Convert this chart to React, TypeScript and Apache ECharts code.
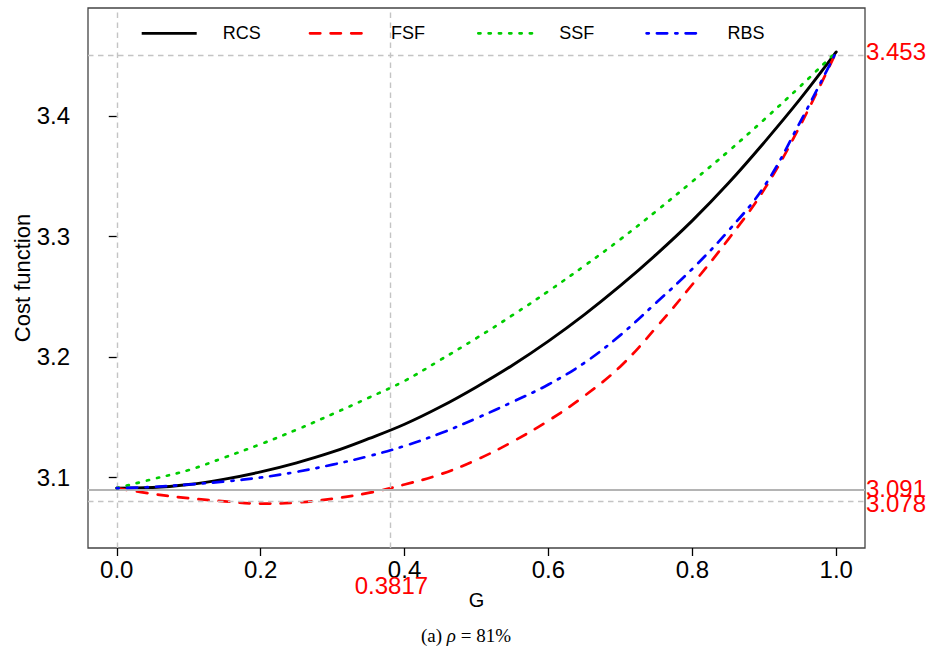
import React, { useEffect, useRef } from "react";
import * as echarts from "echarts";

// ---- data ----
const gValues = [0, 0.05, 0.1, 0.15, 0.2, 0.25, 0.3, 0.35, 0.4, 0.45, 0.5, 0.55, 0.6, 0.65, 0.7, 0.75, 0.8, 0.85, 0.9, 0.95, 1.0];
const rcsValues = [3.091, 3.0915, 3.094, 3.0985, 3.1045, 3.112, 3.121, 3.132, 3.144, 3.1585, 3.175, 3.193, 3.213, 3.235, 3.259, 3.285, 3.313, 3.344, 3.378, 3.414, 3.453];
const fsfValues = [3.091, 3.0862, 3.0826, 3.08, 3.0782, 3.079, 3.0822, 3.087, 3.094, 3.1025, 3.1145, 3.1295, 3.147, 3.1675, 3.192, 3.2245, 3.26, 3.2975, 3.339, 3.392, 3.453];
const ssfValues = [3.091, 3.0985, 3.106, 3.1165, 3.1275, 3.1395, 3.1525, 3.166, 3.18, 3.1975, 3.2155, 3.2345, 3.2545, 3.2755, 3.2975, 3.321, 3.3455, 3.3705, 3.397, 3.4245, 3.453];
const rbsValues = [3.091, 3.092, 3.094, 3.0965, 3.0998, 3.1045, 3.1105, 3.1175, 3.126, 3.1365, 3.149, 3.1625, 3.177, 3.195, 3.218, 3.245, 3.273, 3.3045, 3.3415, 3.395, 3.453];

const seriesNames = ["RCS", "FSF", "SSF", "RBS"];
const xTicks = [0, 0.2, 0.4, 0.6, 0.8, 1.0];
const yTicks = [3.1, 3.2, 3.3, 3.4];
const rightLabelsUpper = [3.453, 3.091];
const rightLabelsLower = [3.078];
const dashedLevels = [3.453, 3.078];
const solidLevel = 3.091;
const refG = [0, 0.3817];
const markedG = [0.3817];
const xRange = [-0.04, 1.04];
const yRange = [3.0413, 3.4895];

// ---- styles ----
const colors = ["#000000", "#ff0000", "#00cd00", "#0000ff"];
const LW = 2.7;
const dashes: (number[] | "solid")[] = ["solid", [10.3, 10.3], [2.2, 8.1], [2.2, 8.1, 10.3, 8.1]];
const FONT = "'Liberation Sans', Arial, Helvetica, sans-serif";
const SERIF = "'Liberation Serif', 'DejaVu Serif', serif";

export default function App() {
  const ref = useRef<HTMLDivElement>(null);
  useEffect(() => {
    if (!ref.current) return;
    const chart = echarts.init(ref.current, null, { renderer: "svg" });
    const seriesData = [rcsValues, fsfValues, ssfValues, rbsValues];

    const curves = seriesNames.map((name, i) => ({
      name,
      type: "line",
      xAxisIndex: 0,
      yAxisIndex: 0,
      data: gValues.map((g, k) => [g, seriesData[i][k]]),
      smooth: 0.4,
      symbol: "none",
      silent: true,
      z: 3 + i,
      lineStyle: {
        color: colors[i],
        width: i === 0 ? 2.9 : LW,
        type: dashes[i],
        cap: "round",
        join: "round",
      },
    }));

    const refSeries = {
      name: "ref",
      type: "line",
      xAxisIndex: 0,
      yAxisIndex: 0,
      data: [],
      silent: true,
      z: 1,
      markLine: {
        silent: true,
        symbol: ["none", "none"],
        label: { show: false },
        emphasis: { disabled: true },
        lineStyle: { color: "#c4c4c4", width: 1.4, type: [5.5, 4.5] },
        data: [
          ...dashedLevels.map((v) => ({ yAxis: v })),
          ...refG.map((g) => ({ xAxis: g })),
          { yAxis: solidLevel, lineStyle: { type: "solid", color: "#b4b4b4", width: 2 } },
        ],
      },
    };

    const legendX0 = 141.7;
    const legendStep = 168.3;
    const legendY = 33.3;
    const legendGraphics: any[] = [];
    seriesNames.forEach((name, i) => {
      const x = legendX0 + i * legendStep;
      legendGraphics.push({
        type: "line",
        silent: true,
        shape: { x1: x, y1: legendY, x2: x + 55, y2: legendY },
        style: {
          stroke: colors[i],
          lineWidth: LW,
          lineDash: dashes[i] === "solid" ? null : dashes[i],
          lineCap: i === 0 ? "butt" : "round",
        },
      });
      legendGraphics.push({
        type: "text",
        silent: true,
        x: x + 81,
        y: legendY,
        style: {
          text: name,
          fontSize: 18,
          fontFamily: FONT,
          fill: "#000",
          verticalAlign: "middle",
          textAlign: "left",
        },
      });
    });

    const redRightAxis = (values: number[]) => ({
      type: "value",
      min: yRange[0],
      max: yRange[1],
      position: "right",
      axisLine: { show: false },
      axisTick: { show: false },
      splitLine: { show: false },
      axisLabel: {
        customValues: values,
        formatter: (v: number) => v.toFixed(3),
        fontSize: 24,
        fontFamily: FONT,
        color: "#ff0000",
        margin: 1,
      },
    });

    const option: any = {
      animation: false,
      backgroundColor: "#ffffff",
      grid: {
        left: 88,
        top: 8,
        width: 777,
        height: 540,
        show: true,
        borderColor: "#444",
        borderWidth: 1.3,
        backgroundColor: "transparent",
        containLabel: false,
        outerBoundsMode: "none",
      },
      xAxis: [
        {
          type: "value",
          min: xRange[0],
          max: xRange[1],
          position: "bottom",
          axisLine: { show: false },
          splitLine: { show: false },
          axisTick: {
            show: true,
            customValues: xTicks,
            length: 8,
            lineStyle: { color: "#000", width: 1.3 },
          },
          axisLabel: {
            customValues: xTicks,
            formatter: (v: number) => v.toFixed(1),
            fontSize: 24,
            fontFamily: FONT,
            color: "#000",
            margin: 9,
          },
          name: "G",
          nameLocation: "middle",
          nameGap: 42,
          nameMoveOverlap: false,
          nameTextStyle: { fontSize: 20, fontFamily: FONT, color: "#000" },
        },
        {
          type: "value",
          min: xRange[0],
          max: xRange[1],
          position: "bottom",
          axisLine: { show: false },
          axisTick: { show: false },
          splitLine: { show: false },
          axisLabel: {
            customValues: markedG,
            formatter: (v: number) => v.toFixed(4),
            fontSize: 24,
            fontFamily: FONT,
            color: "#ff0000",
            margin: 25,
          },
        },
      ],
      yAxis: [
        {
          type: "value",
          min: yRange[0],
          max: yRange[1],
          position: "left",
          axisLine: { show: false },
          splitLine: { show: false },
          axisTick: {
            show: true,
            customValues: yTicks,
            length: 8,
            lineStyle: { color: "#000", width: 1.3 },
          },
          axisLabel: {
            customValues: yTicks,
            formatter: (v: number) => v.toFixed(1),
            fontSize: 24,
            fontFamily: FONT,
            color: "#000",
            margin: 18,
          },
          name: "Cost function",
          nameLocation: "middle",
          nameGap: 55,
          nameMoveOverlap: false,
          nameTextStyle: { fontSize: 22, fontFamily: FONT, color: "#000" },
        },
        redRightAxis(rightLabelsUpper),
        redRightAxis(rightLabelsLower),
      ],
      series: [refSeries, ...curves],
      graphic: [
        ...legendGraphics,
        {
          type: "text",
          silent: true,
          x: 466,
          y: 635,
          style: {
            text: "{a|(a) }{b|ρ}{a| = 81%}",
            textAlign: "center",
            verticalAlign: "middle",
            fill: "#000",
            rich: {
              a: { fontSize: 19, fontFamily: SERIF, fill: "#000" },
              b: { fontSize: 19, fontStyle: "italic", fontFamily: SERIF, fill: "#000" },
            },
          },
        },
      ],
    };
    chart.setOption(option);
    return () => chart.dispose();
  }, []);

  return (
    <div
      ref={ref}
      style={{ position: "fixed", left: 0, top: 0, width: 932, height: 655, background: "#fff" }}
    />
  );
}
